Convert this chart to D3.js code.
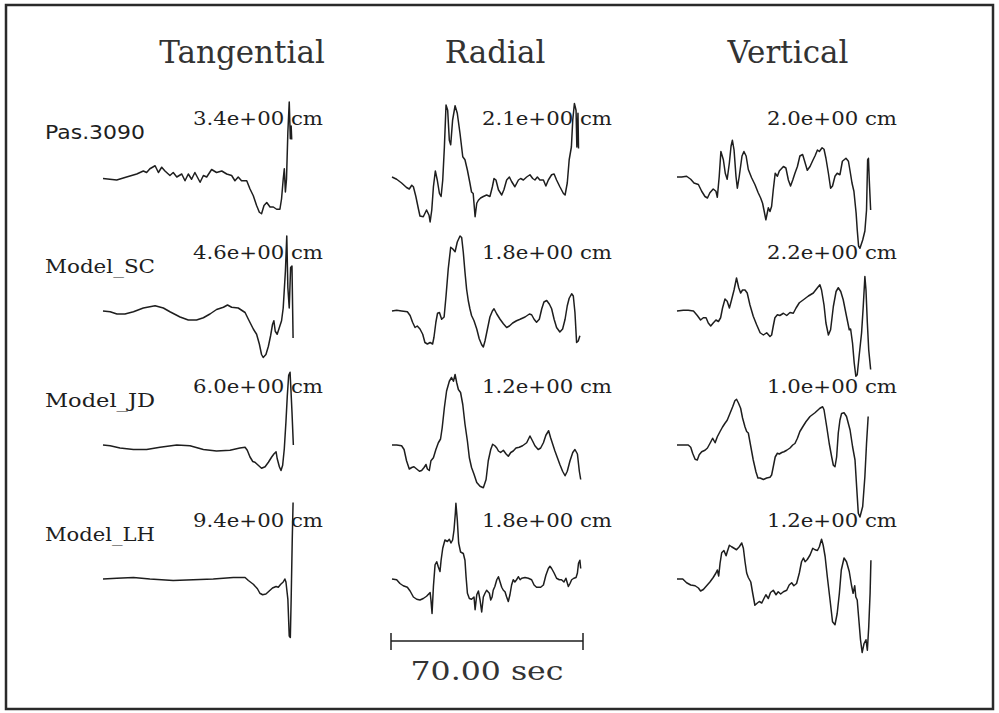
<!DOCTYPE html>
<html>
<head>
<meta charset="utf-8">
<script src="https://cdn.jsdelivr.net/npm/d3@7"></script>
<style>
  body { margin: 0; background: #fff; }
  svg { display: block; }
</style>
</head>
<body>
<svg width="999" height="713"></svg>
<script>
const components = ['Tangential', 'Radial', 'Vertical'];
const stations = ['Pas.3090', 'Model_SC', 'Model_JD', 'Model_LH'];
// peak amplitude of each trace, cm
const peaks = [
  [3.4, 2.1, 2.0],
  [4.6, 1.8, 2.2],
  [6.0, 1.2, 1.0],
  [9.4, 1.8, 1.2],
];
const scaleBarSec = 70;

// traces: [time (s), amplitude / peak]
const pasT = [[0,-0.02],[5.0,-0.04],[8.6,0],[12.3,0.04],[14.7,0.08],[15.9,0.06],[17.1,0.11],[19.0,0.15],[20.2,0.06],[21.4,0.13],[22.6,0.08],[24.4,0.02],[25.6,0.06],[26.9,0],[28.7,0.04],[29.9,-0.05],[31.1,0.04],[32.3,-0.03],[33.5,0.06],[35.4,-0.07],[36.6,0.02],[37.8,0],[39.6,0.10],[41.4,0.06],[43.3,0.08],[45.1,0.04],[46.9,0.02],[48.1,-0.05],[49.3,0],[50.5,-0.05],[52.4,-0.05],[53.6,-0.16],[54.8,-0.25],[56.0,-0.38],[57.0,-0.47],[57.8,-0.49],[58.7,-0.38],[59.7,-0.34],[60.9,-0.40],[62.1,-0.40],[63.3,-0.43],[64.5,-0.43],[65.1,-0.29],[65.7,-0.03],[66.1,0.11],[66.5,-0.20],[66.9,-0.03],[67.4,0.60],[67.9,1.0],[68.3,0.51],[68.6,0.68],[68.8,0.50]];
const pasR = [[0,0],[1.7,-0.03],[3.5,-0.08],[5.3,-0.14],[6.3,-0.16],[7.2,-0.11],[7.8,-0.13],[8.7,-0.26],[9.6,-0.42],[10.2,-0.52],[11.4,-0.53],[12.6,-0.44],[13.5,-0.51],[13.9,-0.60],[14.5,-0.44],[15.1,-0.13],[15.8,0.08],[16.5,-0.04],[17.3,-0.22],[17.9,-0.26],[18.5,-0.04],[19.1,0.40],[19.7,0.96],[20.3,0.89],[20.9,0.49],[21.4,0.43],[22.1,0.76],[23.0,0.95],[23.8,0.85],[24.8,0.58],[25.8,0.27],[26.6,0.23],[27.5,0.09],[28.4,-0.08],[29.0,-0.20],[29.6,-0.22],[30.3,-0.53],[30.9,-0.35],[31.5,-0.31],[32.3,-0.28],[33.3,-0.26],[34.5,-0.24],[35.7,-0.26],[36.6,-0.13],[37.2,-0.02],[37.9,-0.04],[38.8,-0.17],[40.0,-0.24],[40.8,-0.17],[41.8,-0.04],[42.8,0],[43.6,-0.06],[44.8,-0.13],[46.1,-0.04],[46.9,-0.02],[47.9,-0.04],[49.1,0],[50.3,0.03],[51.3,-0.02],[52.1,-0.04],[53.0,0],[53.9,-0.04],[55.2,-0.04],[56.1,-0.12],[57.0,-0.04],[58.2,0.03],[59.1,0.04],[60.0,-0.04],[61.2,-0.13],[62.5,-0.22],[63.1,-0.24],[63.9,-0.08],[64.6,0.23],[65.4,0.40],[65.9,0.76],[66.5,0.98],[67.1,0.89],[67.4,0.40],[67.8,0.85],[68.0,0.38]];
const pasV = [[0,0],[1.7,0],[3.5,0.01],[5.0,-0.03],[6.2,-0.08],[7.8,-0.10],[9.0,-0.19],[10.2,-0.26],[11.1,-0.28],[12.0,-0.21],[13.2,-0.16],[14.2,-0.19],[14.7,-0.27],[15.4,0.01],[16.0,0.34],[16.9,0.23],[17.6,0.05],[18.3,-0.03],[19.1,0.19],[19.7,0.41],[20.2,0.49],[20.8,0.36],[21.5,0.01],[22.0,-0.15],[22.7,0.01],[23.7,0.28],[24.4,0.34],[25.2,0.28],[26.0,0.10],[27.2,-0.01],[28.4,-0.10],[29.6,-0.21],[30.5,-0.28],[31.2,-0.35],[31.7,-0.44],[32.4,-0.57],[33.3,-0.41],[33.9,-0.46],[34.5,-0.39],[35.1,-0.17],[35.8,0.05],[36.6,0.01],[37.3,0.08],[38.8,0.14],[39.7,0.12],[40.6,-0.04],[41.4,-0.12],[42.2,-0.04],[43.0,0.05],[43.9,0.14],[44.8,0.28],[45.8,0.30],[46.7,0.19],[47.5,0.09],[48.5,0.14],[49.5,0.22],[50.3,0.28],[51.2,0.36],[51.9,0.34],[52.9,0.39],[53.6,0.37],[54.3,0.25],[55.2,0.05],[56.0,-0.15],[56.7,-0.12],[57.6,0.01],[58.4,0.05],[59.4,0.03],[60.3,0.21],[61.6,0.25],[62.5,0.21],[63.1,0.08],[63.8,-0.08],[64.5,-0.19],[65.3,-0.48],[65.7,-0.70],[66.2,-0.92],[66.7,-0.95],[67.7,-0.84],[68.5,-0.72],[69.1,-0.44],[69.5,0.23],[69.8,0.25],[70.1,-0.04],[70.6,-0.44]];

const scT = [[0,0],[2.6,-0.01],[5.1,-0.04],[8.0,-0.04],[11.1,-0.01],[14.7,0.04],[19.0,0.07],[22.0,0.04],[24.4,-0.01],[28.1,-0.08],[31.1,-0.12],[34.1,-0.12],[36.6,-0.09],[39.0,-0.04],[41.4,0.02],[43.9,0.05],[45.4,0.08],[46.9,0.05],[49.3,0.04],[51.8,-0.02],[53.0,-0.11],[54.8,-0.24],[56.0,-0.31],[57.0,-0.44],[57.8,-0.58],[58.4,-0.62],[59.4,-0.58],[60.3,-0.47],[61.1,-0.33],[61.8,-0.18],[62.3,-0.13],[62.8,-0.27],[63.5,-0.31],[64.3,-0.22],[65.1,-0.13],[65.7,0.04],[66.5,0.53],[67.0,1.0],[67.4,0.31],[67.9,0.04],[68.4,0.58],[68.9,0.60],[69.3,-0.36]];
const scR = [[0,0],[1.7,0.01],[3.5,0],[5.6,-0.01],[6.6,-0.06],[7.5,-0.15],[8.4,-0.22],[9.2,-0.20],[10.2,-0.24],[11.2,-0.31],[12.0,-0.42],[12.9,-0.44],[13.9,-0.42],[14.8,-0.44],[15.3,-0.35],[16.0,-0.15],[16.6,-0.03],[17.3,-0.02],[18.1,-0.11],[19.0,-0.08],[19.7,0.20],[20.5,0.56],[21.4,0.85],[22.1,0.83],[23.0,0.79],[23.8,0.92],[24.8,1.0],[25.4,0.98],[26.0,0.78],[26.6,0.52],[27.2,0.29],[27.8,0.14],[28.4,0.03],[29.0,-0.06],[29.9,-0.13],[30.9,-0.24],[31.8,-0.37],[32.7,-0.45],[33.3,-0.48],[33.9,-0.40],[34.8,-0.24],[35.7,-0.08],[36.6,0],[37.2,0.03],[38.2,-0.04],[39.4,-0.11],[40.6,-0.17],[41.8,-0.22],[42.8,-0.20],[44.0,-0.16],[45.4,-0.13],[46.7,-0.11],[48.5,-0.08],[50.1,-0.04],[50.9,-0.05],[51.8,-0.11],[52.7,-0.15],[53.7,-0.11],[54.6,0.03],[55.4,0.12],[56.4,0.14],[57.4,0.09],[58.2,0.03],[59.1,-0.11],[60.0,-0.22],[61.2,-0.28],[62.2,-0.24],[63.1,-0.11],[63.9,0.07],[64.6,0.17],[65.5,0.23],[66.1,0.20],[66.7,-0.02],[67.3,-0.42],[67.9,-0.40],[68.5,-0.33]];
const scV = [[0,0],[2.3,0.01],[4.1,0.01],[6.0,0],[7.4,-0.06],[8.6,-0.12],[9.6,-0.09],[10.6,-0.09],[11.4,-0.16],[12.3,-0.20],[13.2,-0.16],[14.2,-0.12],[15.1,-0.14],[15.9,-0.09],[16.6,0.04],[17.5,0.16],[18.3,0.13],[19.1,0.04],[19.9,0.15],[20.8,0.28],[21.7,0.44],[22.5,0.31],[23.2,0.24],[23.9,0.28],[24.8,0.28],[25.6,0.24],[26.6,0.08],[27.8,-0.07],[29.0,-0.18],[30.3,-0.29],[31.5,-0.32],[32.7,-0.29],[33.9,-0.34],[34.5,-0.32],[35.1,-0.20],[35.7,-0.09],[36.6,-0.05],[37.5,-0.06],[38.8,-0.03],[40.0,-0.06],[41.2,-0.02],[42.4,-0.03],[43.4,0.04],[44.6,0.11],[46.1,0.15],[47.9,0.20],[49.7,0.24],[51.2,0.31],[52.1,0.35],[52.7,0.28],[53.6,0.08],[54.3,-0.16],[55.2,-0.32],[56.0,-0.25],[57.0,0.06],[58.0,0.26],[58.8,0.31],[59.7,0.26],[60.6,0.15],[61.8,-0.07],[62.8,-0.25],[63.3,-0.24],[64.0,-0.43],[64.6,-0.69],[65.2,-0.87],[65.7,-0.85],[66.4,-0.60],[67.3,-0.29],[67.9,0.06],[68.5,0.46],[68.9,0.28],[69.4,-0.16],[69.9,-0.52],[70.6,-0.78]];

const jdT = [[0,0],[2.6,-0.01],[6.2,-0.04],[11.1,-0.06],[15.9,-0.06],[20.8,-0.03],[26.9,0],[31.7,-0.01],[36.6,-0.06],[41.4,-0.08],[46.3,-0.07],[49.9,-0.04],[51.8,-0.03],[52.6,-0.07],[53.6,-0.16],[54.6,-0.22],[55.4,-0.23],[56.6,-0.27],[57.8,-0.31],[59.1,-0.29],[60.3,-0.23],[61.5,-0.16],[62.3,-0.12],[63.1,-0.09],[63.5,-0.18],[64.3,-0.29],[64.9,-0.34],[65.5,-0.27],[66.1,-0.05],[66.7,0.31],[67.2,0.66],[67.7,0.93],[68.2,0.97],[68.5,0.75],[68.9,0.44],[69.4,0]];
const jdR = [[0,0],[1.7,0],[3.5,-0.01],[4.4,-0.06],[5.3,-0.21],[6.3,-0.32],[7.2,-0.30],[8.0,-0.29],[9.0,-0.32],[10.0,-0.35],[10.8,-0.34],[11.7,-0.30],[12.4,-0.26],[12.9,-0.32],[13.6,-0.34],[14.2,-0.21],[15.1,-0.17],[16.0,-0.06],[16.9,0.03],[17.7,0.08],[18.3,0.23],[19.1,0.50],[19.9,0.72],[20.9,0.85],[21.7,0.90],[22.4,0.85],[23.0,0.94],[23.6,0.83],[24.2,0.74],[25.0,0.70],[25.8,0.54],[26.6,0.28],[27.5,0.05],[28.2,-0.17],[29.0,-0.30],[29.9,-0.39],[30.9,-0.50],[32.1,-0.55],[33.3,-0.57],[34.3,-0.46],[35.1,-0.21],[36.0,-0.06],[36.7,0.01],[37.5,-0.01],[38.2,-0.04],[38.8,-0.08],[39.6,-0.10],[40.6,-0.07],[41.6,-0.12],[42.4,-0.15],[43.3,-0.10],[44.2,-0.08],[45.2,-0.04],[46.4,-0.03],[47.6,-0.01],[49.1,0.03],[50.3,0.12],[51.3,0.05],[52.1,-0.01],[53.3,-0.06],[54.2,-0.04],[55.2,0.03],[56.1,0.13],[57.1,0.19],[57.8,0.10],[58.6,0.01],[59.4,-0.08],[60.3,-0.17],[61.2,-0.26],[62.2,-0.35],[63.1,-0.41],[63.9,-0.35],[64.9,-0.21],[65.9,-0.10],[66.7,-0.06],[67.6,-0.12],[68.3,-0.35],[68.8,-0.46]];
const jdV = [[0,0],[2.3,0],[4.1,0],[5.0,-0.03],[5.7,-0.11],[6.6,-0.19],[7.4,-0.20],[8.1,-0.13],[9.0,-0.09],[10.2,-0.07],[11.1,-0.04],[12.0,0.02],[13.0,0.09],[13.9,0.03],[14.7,0.11],[15.7,0.18],[16.6,0.24],[17.5,0.29],[18.3,0.33],[19.3,0.42],[20.3,0.51],[21.1,0.59],[21.7,0.61],[22.4,0.56],[23.2,0.49],[23.9,0.36],[24.8,0.24],[25.4,0.18],[26.0,0.16],[26.9,-0.02],[27.8,-0.20],[28.8,-0.36],[29.5,-0.44],[30.3,-0.44],[31.5,-0.46],[32.7,-0.44],[33.9,-0.43],[34.5,-0.40],[35.1,-0.29],[35.8,-0.16],[36.6,-0.11],[37.3,-0.12],[38.2,-0.10],[39.0,-0.09],[40.0,-0.07],[41.2,-0.04],[42.2,0],[43.0,0.02],[43.9,0.09],[44.8,0.18],[45.8,0.24],[47.0,0.31],[48.5,0.38],[50.3,0.43],[52.1,0.49],[53.1,0.51],[53.6,0.47],[54.6,0.24],[55.5,0.02],[56.4,-0.16],[57.0,-0.27],[57.6,-0.29],[58.2,-0.16],[58.8,0.16],[59.4,0.33],[60.0,0.42],[60.9,0.43],[61.8,0.38],[63.1,0.20],[64.0,-0.02],[64.9,-0.20],[65.5,-0.56],[66.1,-0.91],[66.7,-0.96],[67.7,-0.82],[68.5,-0.42],[69.1,0.02],[69.7,0.38]];

const lhT = [[0,0],[5.0,0.01],[11.1,0.02],[17.1,0],[25.6,-0.02],[32.9,-0.01],[40.2,0],[47.5,0.02],[51.8,0.02],[53.0,-0.02],[54.8,-0.07],[56.3,-0.13],[57.2,-0.19],[58.2,-0.21],[59.4,-0.20],[60.6,-0.16],[61.8,-0.12],[63.1,-0.10],[63.9,-0.11],[64.8,-0.07],[65.7,-0.04],[66.3,0],[66.7,-0.04],[67.4,-0.27],[67.9,-0.76],[68.3,-0.78],[68.6,-0.27],[69.0,0.53],[69.3,1.02]];
const lhR = [[0,0],[1.7,-0.01],[2.9,-0.06],[4.1,-0.09],[5.6,-0.11],[6.6,-0.16],[7.8,-0.24],[9.0,-0.27],[10.2,-0.28],[11.4,-0.26],[12.6,-0.23],[13.9,-0.18],[14.2,-0.28],[14.6,-0.46],[15.1,-0.10],[15.7,0.19],[16.3,0.23],[16.9,0.16],[17.5,0.10],[17.9,0.25],[18.5,0.41],[19.3,0.52],[20.2,0.50],[20.9,0.53],[21.5,0.48],[22.1,0.52],[22.6,0.65],[23.1,0.88],[23.3,1.01],[23.8,0.79],[24.3,0.48],[25.0,0.36],[26.0,0.34],[26.6,0.25],[27.0,0.03],[27.5,-0.19],[28.2,-0.26],[29.0,-0.27],[29.9,-0.24],[30.3,-0.41],[30.9,-0.21],[31.5,-0.16],[32.1,-0.28],[32.7,-0.44],[33.3,-0.24],[33.9,-0.19],[34.5,-0.15],[35.5,-0.19],[36.0,-0.28],[36.5,-0.24],[36.9,-0.15],[37.5,-0.10],[38.2,-0.01],[38.8,0.03],[39.4,-0.04],[40.0,-0.11],[40.6,-0.15],[41.2,-0.17],[41.8,-0.24],[42.4,-0.30],[43.0,-0.21],[43.6,-0.08],[44.2,-0.01],[44.8,-0.04],[45.4,-0.01],[46.1,0.03],[46.7,-0.01],[47.3,0.01],[48.5,0.02],[49.7,0.01],[50.9,-0.01],[51.8,-0.08],[52.7,-0.11],[54.2,-0.11],[55.2,-0.08],[56.1,0.05],[57.0,0.14],[57.6,0.17],[58.2,0.14],[59.1,0.08],[60.0,0.01],[61.0,-0.01],[61.8,-0.01],[62.7,-0.04],[63.4,0.01],[64.3,-0.10],[64.9,-0.06],[65.5,-0.01],[66.3,0.01],[67.1,0.02],[67.6,0.08],[68.0,0.21],[68.5,0.25],[68.8,0.14]];
const lhV = [[0,0],[2.1,0],[3.5,-0.05],[5.0,-0.08],[6.6,-0.09],[7.8,-0.12],[8.6,-0.16],[9.6,-0.14],[10.8,-0.09],[12.0,-0.04],[13.2,0.02],[14.2,0.08],[14.7,0.12],[15.2,0.04],[15.7,0.21],[16.3,0.35],[17.1,0.38],[17.9,0.31],[18.3,0.36],[19.1,0.45],[19.9,0.43],[20.8,0.41],[21.7,0.39],[22.7,0.43],[23.6,0.48],[24.2,0.41],[24.8,0.23],[25.4,0.08],[26.0,0.02],[26.9,-0.04],[27.6,-0.19],[28.4,-0.35],[29.3,-0.32],[30.0,-0.30],[30.9,-0.32],[31.7,-0.26],[32.4,-0.21],[33.3,-0.26],[34.1,-0.18],[35.1,-0.15],[36.1,-0.21],[36.9,-0.17],[37.8,-0.20],[38.8,-0.17],[40.0,-0.15],[40.9,-0.08],[41.8,-0.05],[42.6,-0.09],[43.6,-0.06],[44.6,0.08],[45.4,0.23],[46.1,0.28],[46.7,0.23],[47.5,0.26],[48.5,0.32],[49.5,0.41],[50.3,0.39],[51.2,0.38],[51.9,0.43],[52.7,0.53],[53.3,0.45],[54.0,0.30],[54.8,0.03],[55.8,-0.28],[56.7,-0.57],[57.6,-0.61],[58.4,-0.46],[59.2,-0.19],[59.9,0.12],[60.9,0.28],[61.8,0.23],[62.8,0.10],[63.6,-0.08],[64.2,-0.19],[64.8,-0.09],[65.2,-0.24],[65.7,-0.28],[66.2,-0.50],[66.9,-0.81],[67.5,-0.98],[68.2,-0.86],[68.9,-0.81],[69.4,-0.95],[69.9,-0.64],[70.4,-0.19],[70.7,0.25]];

const traces = [
  [pasT, pasR, pasV],
  [scT, scR, scV],
  [jdT, jdR, jdV],
  [lhT, lhR, lhV],
];

const ink = '#1e1e1e';
const svg = d3.select('svg');

// page layout
const colX = [103, 392, 677];
const titleX = [242, 495, 788];
const rowY = d3.range(stations.length).map((i) => 177 + i * 134);

const x = d3.scaleLinear().domain([0, 70]).range([0, 192]);
const y = d3.scaleLinear().domain([-1, 1]).range([75, -75]);
const line = d3.line().x((d) => x(d[0])).y((d) => y(d[1]));

svg.append('rect')
  .attr('x', 6).attr('y', 5)
  .attr('width', 987).attr('height', 704)
  .attr('fill', 'none')
  .attr('stroke', '#2a2a2a')
  .attr('stroke-width', 2.5);

// column titles
svg.selectAll('text.title')
  .data(components)
  .join('text')
  .attr('class', 'title')
  .attr('x', (d, i) => titleX[i])
  .attr('y', 63)
  .attr('text-anchor', 'middle')
  .attr('font-family', 'DejaVu Serif')
  .attr('font-size', 31)
  .attr('fill', '#333')
  .text((d) => d);

// station names
svg.selectAll('text.station')
  .data(stations)
  .join('text')
  .attr('class', 'station')
  .attr('x', 45)
  .attr('y', (d, i) => rowY[i] - 38)
  .attr('font-family', (d, i) => (i === 0 ? 'DejaVu Sans' : 'DejaVu Serif'))
  .attr('font-size', 19)
  .attr('textLength', (d, i) => (i === 0 ? 100 : 110))
  .attr('lengthAdjust', 'spacingAndGlyphs')
  .attr('fill', ink)
  .text((d) => d);

stations.forEach((name, r) => {
  const row = svg.append('g').attr('transform', `translate(0,${rowY[r]})`);
  components.forEach((comp, c) => {
    const g = row.append('g').attr('transform', `translate(${colX[c]},0)`);
    g.append('path')
      .attr('d', line(traces[r][c]))
      .attr('fill', 'none')
      .attr('stroke', ink)
      .attr('stroke-width', 1.5)
      .attr('stroke-linejoin', 'round');
    g.append('text')
      .attr('x', 90)
      .attr('y', -52)
      .attr('font-family', 'DejaVu Serif')
      .attr('font-size', 18)
      .attr('textLength', 130)
      .attr('lengthAdjust', 'spacingAndGlyphs')
      .attr('fill', ink)
      .text(`${peaks[r][c].toFixed(1)}e+00 cm`);
  });
});

// time scale bar
const bar = svg.append('g').attr('transform', `translate(${colX[1] - 1},641)`);
bar.append('line')
  .attr('x1', x(0)).attr('x2', x(scaleBarSec))
  .attr('stroke', ink).attr('stroke-width', 1.5);
bar.selectAll('line.tick')
  .data([0, scaleBarSec])
  .join('line')
  .attr('class', 'tick')
  .attr('x1', (d) => x(d)).attr('x2', (d) => x(d))
  .attr('y1', -8).attr('y2', 9)
  .attr('stroke', ink).attr('stroke-width', 1.5);
bar.append('text')
  .attr('x', x(scaleBarSec / 2))
  .attr('y', 39)
  .attr('text-anchor', 'middle')
  .attr('font-family', 'DejaVu Serif')
  .attr('font-size', 26)
  .attr('textLength', 153)
  .attr('lengthAdjust', 'spacingAndGlyphs')
  .attr('fill', '#333')
  .text(`${scaleBarSec.toFixed(2)} sec`);
</script>
</body>
</html>
